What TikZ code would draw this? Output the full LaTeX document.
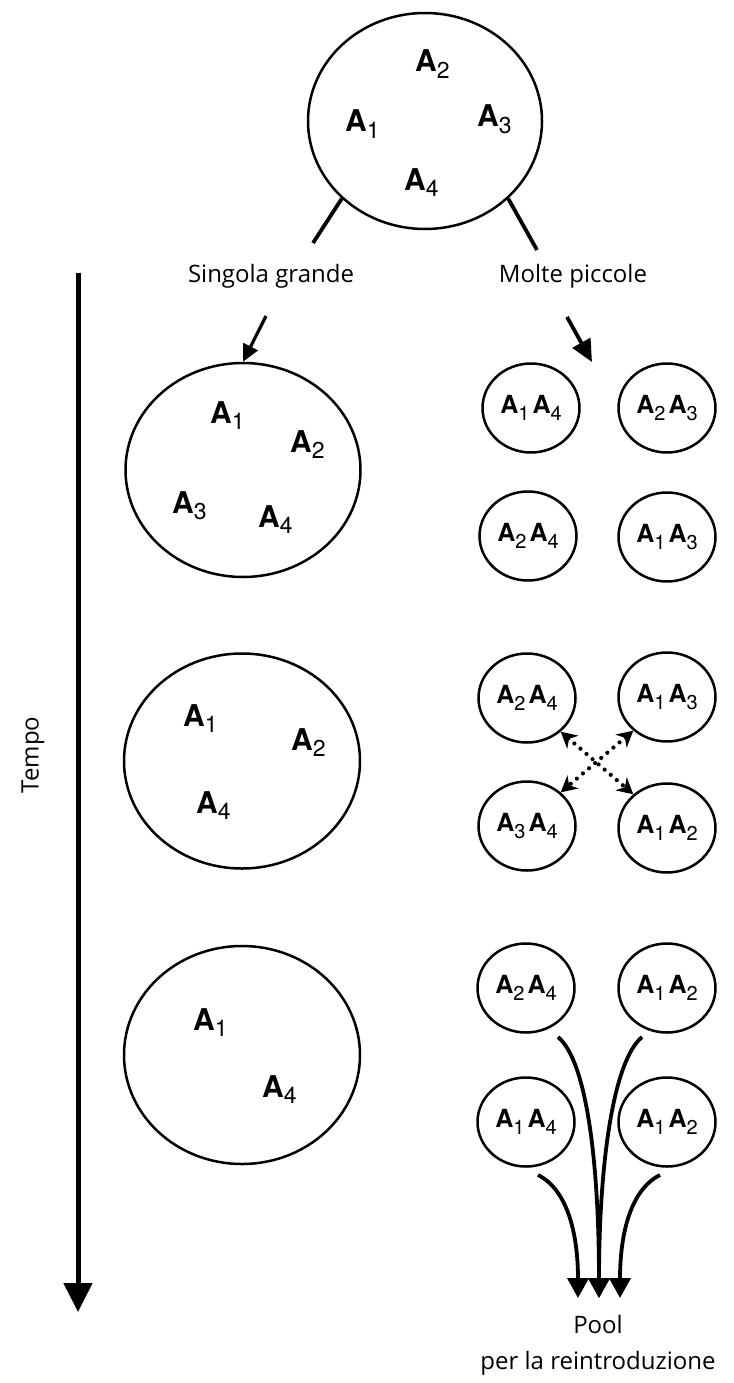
\documentclass[tikz,border=0pt]{standalone}
\usepackage{fontspec}
\setmainfont{Open Sans}
\newfontfamily\hv{TeX Gyre Heros}
\usetikzlibrary{arrows.meta,shapes.geometric}
\newcommand{\BA}[1]{{\hv\fontsize{30}{30}\selectfont\bfseries A}{\hv\raisebox{-6.5pt}{\fontsize{23}{23}\selectfont #1}}}
\newcommand{\SA}[1]{{\hv\fontsize{25}{25}\selectfont\bfseries A}{\hv\raisebox{-6.5pt}{\fontsize{20}{20}\selectfont #1}}}
\newcommand{\SP}[2]{\SA{#1}\hspace{3pt}\SA{#2}}
\tikzset{
  bigell/.style={ellipse, draw, line width=2.5pt, inner sep=0pt},
  smallell/.style={ellipse, draw, line width=2.5pt, minimum width=97pt, minimum height=89pt, inner sep=0pt},
  lbl/.style={anchor=base west, inner sep=0pt},
  caption/.style={inner sep=0pt, font=\fontsize{24}{28}\selectfont},
  thickline/.style={line width=3.8pt},
  downarrow/.style={line width=3.8pt, -{Triangle[width=20pt,length=22pt]}},
  swap/.style={line width=4.2pt, dash pattern=on 0pt off 8pt, line cap=round, {Stealth[length=16pt,width=17pt,inset=5pt]}-{Stealth[length=16pt,width=17pt,inset=5pt]}},
  poolarrow/.style={line width=3.8pt, -{Triangle[width=21pt,length=20pt]}}
}
\begin{document}
\begin{tikzpicture}[x=1pt,y=-1pt]
\useasboundingbox (0,0) rectangle (733,1383);

% top population
\node[bigell, minimum width=234pt, minimum height=216pt] (top) at (425,121) {};
\node[lbl] (t2) at (415,72) {\BA{2}};
\node[lbl] (t1) at (345,132) {\BA{1}};
\node[lbl] (t3) at (477,127) {\BA{3}};
\node[lbl] (t4) at (404,190) {\BA{4}};

\node[caption] (single) at (271,276) {Singola grande};
\node[caption] (many) at (573,276) {Molte piccole};
\coordinate (sl) at (313,243);
\coordinate (ml) at (537,250);
\draw[thickline] (top.223) -- (sl);
\draw[thickline] (top.317) -- (ml);

% time axis
\coordinate (ttop) at (78,273);
\coordinate (tbot) at (78,1312);
\draw[line width=5pt, -{Triangle[width=28pt,length=29pt]}] (ttop) -- (tbot);
\node[caption, rotate=90] (tempo) at (33,755) {Tempo};

% left column: single large population
\node[bigell, minimum width=235pt, minimum height=214pt] (L1) at (243,470) {};
\node[lbl] (l1a) at (210,423) {\BA{1}};
\node[lbl] (l1b) at (290,452) {\BA{2}};
\node[lbl] (l1c) at (172,513) {\BA{3}};
\node[lbl] (l1d) at (258,527) {\BA{4}};

\node[bigell, minimum width=236pt, minimum height=215pt] (L2) at (242,761) {};
\node[lbl] (l2a) at (183,726) {\BA{1}};
\node[lbl] (l2b) at (291,750) {\BA{2}};
\node[lbl] (l2c) at (196,813) {\BA{4}};

\node[bigell, minimum width=236pt, minimum height=218pt] (L3) at (242,1055) {};
\node[lbl] (l3a) at (193,1030) {\BA{1}};
\node[lbl] (l3b) at (262,1097) {\BA{4}};

\coordinate (sa) at (266,316);
\draw[line width=3.2pt, -{Triangle[width=16pt,length=17pt]}] (sa) -- (L1.north);

% right column: many small populations
\coordinate (ma) at (567,317);
\coordinate (mb) at (592,362);
\draw[downarrow] (ma) -- (mb);

\node[smallell] (r1a) at (531,408) {\SP{1}{4}};
\node[smallell] (r1b) at (667,408) {\SP{2}{3}};
\node[smallell] (r2a) at (528,536) {\SP{2}{4}};
\node[smallell] (r2b) at (667,537) {\SP{1}{3}};

\node[smallell] (r3a) at (527,698) {\SP{2}{4}};
\node[smallell] (r3b) at (667,697) {\SP{1}{3}};
\node[smallell] (r4a) at (527,826) {\SP{3}{4}};
\node[smallell] (r4b) at (667,828) {\SP{1}{2}};
\draw[swap] (r3a.315) -- (r4b.135);
\draw[swap] (r3b.225) -- (r4a.45);

\node[smallell] (r5a) at (526,988) {\SP{2}{4}};
\node[smallell] (r5b) at (667,988) {\SP{1}{2}};
\node[smallell] (r6a) at (526,1122) {\SP{1}{4}};
\node[smallell] (r6b) at (667,1122) {\SP{1}{2}};

\coordinate (p1) at (558,1037);
\coordinate (p2) at (642,1037);
\coordinate (p3) at (538,1175);
\coordinate (p4) at (660,1175);
\coordinate (tipl) at (578,1298);
\coordinate (tipm) at (599,1298);
\coordinate (tipr) at (620,1298);
\draw[poolarrow] (p1) .. controls (588,1062) and (599,1170) .. (tipm);
\draw[poolarrow] (p2) .. controls (612,1062) and (599,1170) .. (tipm);
\draw[poolarrow] (p3) .. controls (568,1190) and (578,1235) .. (tipl);
\draw[poolarrow] (p4) .. controls (630,1190) and (620,1235) .. (tipr);

\node[caption] (pool) at (598,1324) {Pool};
\node[caption] (pool2) at (598,1363) {per la reintroduzione};
\end{tikzpicture}
\end{document}
